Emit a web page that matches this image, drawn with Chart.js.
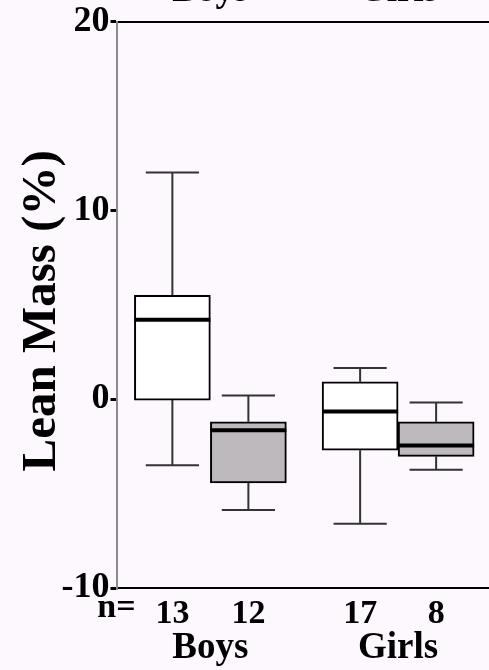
<!DOCTYPE html>
<html>
<head>
<meta charset="utf-8">
<title>Lean Mass (%)</title>
<script src="https://cdn.jsdelivr.net/npm/chart.js@4.4.0/dist/chart.umd.min.js"></script>
<style>
  html, body { margin: 0; padding: 0; background: #fdf8fd; overflow: hidden; width: 489px; height: 670px; }
  /* the canvas is a bit taller than the page so the upper group labels get cropped like in the scan */
  #wrap { position: absolute; left: 0; top: -30px; width: 492px; height: 700px; }
</style>
</head>
<body>
<div id="wrap"><canvas id="chart" width="492" height="700"></canvas></div>
<script>
// groups on the x axis
const groups = ['Boys', 'Girls'];

// white boxes (first condition in each group)
const whiteMin = [-3.5, -6.6];
const whiteQ1 = [-0.05, -2.7];
const whiteMedian = [4.2, -0.65];
const whiteQ3 = [5.5, 0.92];
const whiteMax = [12.0, 1.65];
const whiteN = [13, 17];

// grey boxes (second condition in each group)
const greyMin = [-5.87, -3.74];
const greyQ1 = [-4.43, -3.03];
const greyMedian = [-1.64, -2.45];
const greyQ3 = [-1.2, -1.2];
const greyMax = [0.2, -0.17];
const greyN = [12, 8];

// y axis ticks
const yTicks = [-10, 0, 10, 20];

const SERIF = "'Liberation Serif', 'Times New Roman', serif";
Chart.defaults.font.family = SERIF;
Chart.defaults.color = '#000';

// draws whiskers, medians and the n= row from the arrays above, using the chart's own scales
const boxParts = {
    id: 'boxParts',
    beforeDatasetsDraw(chart) {
        const ctx = chart.ctx;
        const y = chart.scales.y;
        ctx.save();
        ctx.strokeStyle = '#333';
        ctx.lineWidth = 2;
        chart.data.datasets.forEach((ds, i) => {
            chart.getDatasetMeta(i).data.forEach((bar, j) => {
                const half = bar.width * 0.35;
                const lo = y.getPixelForValue(ds.whiskerLow[j]);
                const hi = y.getPixelForValue(ds.whiskerHigh[j]);
                const q1 = y.getPixelForValue(ds.data[j][0]);
                const q3 = y.getPixelForValue(ds.data[j][1]);
                ctx.beginPath();
                ctx.moveTo(bar.x, q3); ctx.lineTo(bar.x, hi);
                ctx.moveTo(bar.x - half, hi); ctx.lineTo(bar.x + half, hi);
                ctx.moveTo(bar.x, q1); ctx.lineTo(bar.x, lo);
                ctx.moveTo(bar.x - half, lo); ctx.lineTo(bar.x + half, lo);
                ctx.stroke();
            });
        });
        ctx.restore();
    },
    afterDatasetsDraw(chart) {
        const ctx = chart.ctx;
        const y = chart.scales.y;
        const area = chart.chartArea;
        ctx.save();
        // medians
        ctx.strokeStyle = '#000';
        ctx.lineWidth = 4;
        chart.data.datasets.forEach((ds, i) => {
            chart.getDatasetMeta(i).data.forEach((bar, j) => {
                const m = y.getPixelForValue(ds.median[j]);
                ctx.beginPath();
                ctx.moveTo(bar.x - bar.width / 2, m);
                ctx.lineTo(bar.x + bar.width / 2, m);
                ctx.stroke();
            });
        });
        // sample sizes under each box
        ctx.fillStyle = '#000';
        ctx.font = 'bold 34px ' + SERIF;
        ctx.textAlign = 'center';
        ctx.textBaseline = 'alphabetic';
        ctx.fillText('n=', area.left, area.bottom + 29);
        chart.data.datasets.forEach((ds, i) => {
            chart.getDatasetMeta(i).data.forEach((bar, j) => {
                ctx.fillText(String(ds.counts[j]), bar.x, area.bottom + 35);
            });
        });
        ctx.restore();
    }
};

new Chart(document.getElementById('chart').getContext('2d'), {
    type: 'bar',
    data: {
        labels: groups,
        datasets: [
            {
                label: 'white',
                data: groups.map((_, i) => [whiteQ1[i], whiteQ3[i]]),
                median: whiteMedian,
                whiskerLow: whiteMin,
                whiskerHigh: whiteMax,
                counts: whiteN,
                backgroundColor: '#ffffff',
                borderColor: '#000',
                borderWidth: 2,
                borderSkipped: false,
                barThickness: 76
            },
            {
                label: 'grey',
                data: groups.map((_, i) => [greyQ1[i], greyQ3[i]]),
                median: greyMedian,
                whiskerLow: greyMin,
                whiskerHigh: greyMax,
                counts: greyN,
                backgroundColor: '#bdb9bd',
                borderColor: '#000',
                borderWidth: 2,
                borderSkipped: false,
                barThickness: 76
            }
        ]
    },
    options: {
        responsive: false,
        animation: false,
        devicePixelRatio: 1,
        layout: { padding: 0 },
        plugins: {
            legend: { display: false },
            tooltip: { enabled: false }
        },
        scales: {
            x: {
                position: 'bottom',
                offset: true,
                grid: { display: false },
                border: { display: true, color: '#000', width: 2 },
                ticks: { padding: 30, font: { size: 37, weight: 'bold' } },
                afterFit: s => { s.height = 82; }
            },
            x2: {
                type: 'category',
                labels: groups,
                position: 'top',
                offset: true,
                grid: { display: false },
                border: { display: true, color: '#000', width: 2 },
                ticks: { padding: 0, font: { size: 37, weight: 'bold' } },
                afterFit: s => { s.height = 51.5; }
            },
            y: {
                min: yTicks[0],
                max: yTicks[yTicks.length - 1],
                afterBuildTicks: s => { s.ticks = yTicks.map(v => ({ value: v })); },
                grid: {
                    display: true,
                    drawOnChartArea: false,
                    drawTicks: true,
                    tickLength: 6,
                    lineWidth: 3,
                    color: '#000'
                },
                border: { display: true, color: '#8a8a8a', width: 2 },
                ticks: { padding: 1, font: { size: 36, weight: 'bold' } },
                title: {
                    display: true,
                    text: 'Lean Mass (%) ',
                    font: { size: 49, weight: 'bold' },
                    padding: { top: 13, bottom: 0 }
                },
                afterFit: s => { s.width = 116.5; }
            }
        }
    },
    plugins: [boxParts]
});
</script>
</body>
</html>
